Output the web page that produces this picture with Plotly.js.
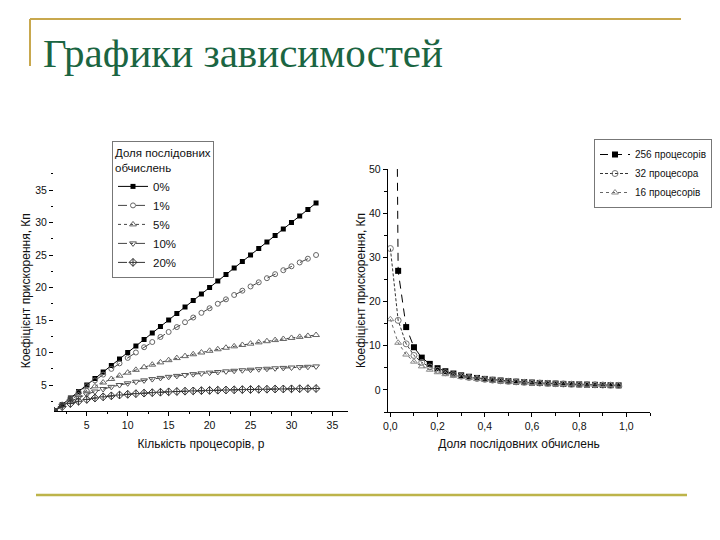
<!DOCTYPE html>
<html>
<head>
<meta charset="utf-8">
<script src="https://cdn.plot.ly/plotly-3.0.1.min.js"></script>
<style>html,body{margin:0;padding:0;background:#fff;}#chart{width:720px;height:540px;}</style>
</head>
<body>
<div id="chart"></div>
<script>
// ---- Left chart: speedup vs number of processors ----
const procs = [1,2,3,4,5,6,7,8,9,10,11,12,13,14,15,16,17,18,19,20,21,22,23,24,25,26,27,28,29,30,31,32,33];
const sp0  = [1,2,3,4,5,6,7,8,9,10,11,12,13,14,15,16,17,18,19,20,21,22,23,24,25,26,27,28,29,30,31,32,33];
const sp1  = [1.00,1.98,2.94,3.88,4.81,5.71,6.60,7.48,8.33,9.17,10.00,10.81,11.61,12.39,13.16,13.91,14.66,15.38,16.10,16.81,17.50,18.18,18.85,19.51,20.16,20.80,21.43,22.05,22.66,23.26,23.85,24.43,25.00];
const sp5  = [1.00,1.90,2.73,3.48,4.17,4.80,5.38,5.93,6.43,6.90,7.33,7.74,8.13,8.48,8.82,9.14,9.44,9.73,10.00,10.26,10.50,10.73,10.95,11.16,11.36,11.56,11.74,11.91,12.08,12.24,12.40,12.55,12.69];
const sp10 = [1.00,1.82,2.50,3.08,3.57,4.00,4.38,4.71,5.00,5.26,5.50,5.71,5.91,6.09,6.25,6.40,6.54,6.67,6.79,6.90,7.00,7.10,7.19,7.27,7.35,7.43,7.50,7.57,7.63,7.69,7.75,7.80,7.86];
const sp20 = [1.00,1.67,2.14,2.50,2.78,3.00,3.18,3.33,3.46,3.57,3.67,3.75,3.82,3.89,3.95,4.00,4.05,4.09,4.13,4.17,4.20,4.23,4.26,4.29,4.31,4.33,4.35,4.38,4.39,4.41,4.43,4.44,4.46];
const leftNames = ['0%','1%','5%','10%','20%'];

// ---- Right chart: speedup vs serial fraction ----
const fracs = [0,0.033,0.067,0.1,0.133,0.167,0.2,0.233,0.267,0.3,0.333,0.367,0.4,0.433,0.467,0.5,0.533,0.567,0.6,0.633,0.667,0.7,0.733,0.767,0.8,0.833,0.867,0.9,0.933,0.967];
const s256 = [256,26.95,14.22,9.66,7.31,5.89,4.92,4.23,3.71,3.30,2.98,2.71,2.49,2.30,2.13,1.99,1.87,1.76,1.66,1.58,1.50,1.43,1.36,1.30,1.25,1.20,1.15,1.11,1.07,1.03];
const s32  = [32,15.74,10.43,7.80,6.23,5.19,4.44,3.89,3.45,3.11,2.82,2.59,2.39,2.22,2.07,1.94,1.83,1.72,1.63,1.55,1.48,1.41,1.35,1.29,1.24,1.19,1.15,1.11,1.07,1.03];
const s16  = [16,10.67,8.00,6.40,5.33,4.57,4.00,3.56,3.20,2.91,2.67,2.46,2.29,2.13,2.00,1.88,1.78,1.68,1.60,1.52,1.45,1.39,1.33,1.28,1.23,1.19,1.14,1.10,1.07,1.03];
const rightNames = ['256 процесорів','32 процесора','16 процесорів'];

const FONT = 'Liberation Sans, Arial, sans-serif';
const W = 720, H = 540;
const px = v => v / W;
const py = v => 1 - v / H;

const traces = [
  {x: procs, y: sp0, name: leftNames[0], xaxis:'x', yaxis:'y', legend:'legend', mode:'lines+markers',
   line:{color:'#000', width:1, dash:'solid'}, marker:{symbol:'square', size:5, color:'#000'}},
  {x: procs, y: sp1, name: leftNames[1], xaxis:'x', yaxis:'y', legend:'legend', mode:'lines+markers',
   line:{color:'#444', width:1, dash:'dash'}, marker:{symbol:'circle-open', size:5, color:'#666'}},
  {x: procs, y: sp5, name: leftNames[2], xaxis:'x', yaxis:'y', legend:'legend', mode:'lines+markers',
   line:{color:'#444', width:1, dash:'dot'}, marker:{symbol:'triangle-up-open', size:6, color:'#666'}},
  {x: procs, y: sp10, name: leftNames[3], xaxis:'x', yaxis:'y', legend:'legend', mode:'lines+markers',
   line:{color:'#444', width:1, dash:'dashdot'}, marker:{symbol:'triangle-down-open', size:6, color:'#555'}},
  {x: procs, y: sp20, name: leftNames[4], xaxis:'x', yaxis:'y', legend:'legend', mode:'lines+markers',
   line:{color:'#333', width:1, dash:'dash'}, marker:{symbol:'diamond-cross-open', size:6, color:'#333'}},

  {x: fracs, y: s256, name: rightNames[0], xaxis:'x2', yaxis:'y2', legend:'legend2', mode:'lines+markers',
   line:{color:'#000', width:1, dash:'8px,6px'}, marker:{symbol:'square', size:6, color:'#000'}},
  {x: fracs, y: s32, name: rightNames[1], xaxis:'x2', yaxis:'y2', legend:'legend2', mode:'lines+markers',
   line:{color:'#333', width:1, dash:'3px,2px'}, marker:{symbol:'circle-open', size:6, color:'#777'}},
  {x: fracs, y: s16, name: rightNames[2], xaxis:'x2', yaxis:'y2', legend:'legend2', mode:'lines+markers',
   line:{color:'#666', width:1, dash:'dot'}, marker:{symbol:'triangle-up-open', size:6, color:'#888'}}
];

const tickFont = {family: FONT, size: 10.5, color: '#111'};
const titleFont = {family: FONT, size: 12, color: '#111'};

const layout = {
  width: W, height: H,
  margin: {l:0, r:0, t:0, b:0},
  paper_bgcolor: '#fff', plot_bgcolor: '#fff',
  separators: ', ',
  showlegend: true,
  hovermode: false,
  title: {
    text: 'Графики зависимостей',
    font: {family: 'Liberation Serif, Times New Roman, serif', size: 41, color: '#1b6542'},
    x: px(43), xanchor: 'left', xref: 'paper',
    y: py(53), yanchor: 'middle', yref: 'paper'
  },
  xaxis: {
    domain: [px(54), px(348)], anchor: 'y', range: [1, 36.9],
    tickmode: 'linear', tick0: 0, dtick: 5, ticks: 'outside', ticklen: 4, tickcolor: '#000',
    minor: {dtick: 2.5, tick0: 0, ticks: 'outside', ticklen: 2, tickcolor: '#000'},
    showline: true, linecolor: '#000', linewidth: 1.2, showgrid: false, zeroline: false,
    tickfont: tickFont,
    title: {text: 'Кількість процесорів, р', font: titleFont, standoff: 9}
  },
  yaxis: {
    domain: [py(411), py(170.5)], anchor: 'x', range: [1, 38],
    tickmode: 'linear', tick0: 0, dtick: 5, ticks: 'outside', ticklen: 4, tickcolor: '#000',
    minor: {dtick: 2.5, tick0: 0, ticks: 'outside', ticklen: 2, tickcolor: '#000'},
    showline: false, showgrid: false, zeroline: false,
    tickfont: tickFont,
    title: {text: 'Коефіцієнт прискорення, Кп', font: titleFont, standoff: 2}
  },
  xaxis2: {
    domain: [px(388), px(650)], anchor: 'y2', range: [-0.01, 1.1],
    tickmode: 'linear', tick0: 0, dtick: 0.2, tickformat: '.1f', ticks: 'outside', ticklen: 4, tickcolor: '#000',
    minor: {dtick: 0.1, tick0: 0, ticks: 'outside', ticklen: 3, tickcolor: '#000'},
    showline: true, linecolor: '#000', linewidth: 1.2, showgrid: false, zeroline: false,
    tickfont: tickFont,
    title: {text: 'Доля послідовних обчислень', font: titleFont, standoff: 8}
  },
  yaxis2: {
    domain: [py(412), py(169)], anchor: 'x2', range: [-5, 50],
    tickmode: 'linear', tick0: 0, dtick: 10, ticks: 'outside', ticklen: 4, tickcolor: '#000',
    minor: {dtick: 5, tick0: 0, ticks: 'outside', ticklen: 3, tickcolor: '#000'},
    showline: true, linecolor: '#000', linewidth: 1.2, showgrid: false, zeroline: false,
    tickfont: tickFont,
    title: {text: 'Коефіцієнт прискорення, Кп', font: titleFont, standoff: 0}
  },
  legend: {
    x: px(112), xanchor: 'left', y: py(141), yanchor: 'top',
    bgcolor: '#fff', bordercolor: '#777', borderwidth: 1,
    font: {family: FONT, size: 11.5, color: '#111'},
    title: {text: 'Доля послідовних<br>обчислень', font: {family: FONT, size: 11.5, color: '#111'}, side: 'top'},
    itemwidth: 30, tracegroupgap: 0
  },
  legend2: {
    x: px(594), xanchor: 'left', y: py(139), yanchor: 'top',
    bgcolor: '#fff', bordercolor: '#777', borderwidth: 1,
    font: {family: FONT, size: 10, color: '#111'},
    itemwidth: 30, tracegroupgap: 0
  },
  shapes: [
    {type:'line', xref:'paper', yref:'paper', x0: px(30), x1: px(681), y0: py(19), y1: py(19),
     line:{color:'#c8a84e', width:2}},
    {type:'line', xref:'paper', yref:'paper', x0: px(30), x1: px(30), y0: py(19), y1: py(66),
     line:{color:'#c8a84e', width:2}},
    {type:'line', xref:'paper', yref:'paper', x0: px(36), x1: px(687), y0: py(495), y1: py(495),
     line:{color:'#bdb44a', width:2.5}}
  ]
};

Plotly.newPlot('chart', traces, layout, {staticPlot: true, displayModeBar: false});
</script>
</body>
</html>
